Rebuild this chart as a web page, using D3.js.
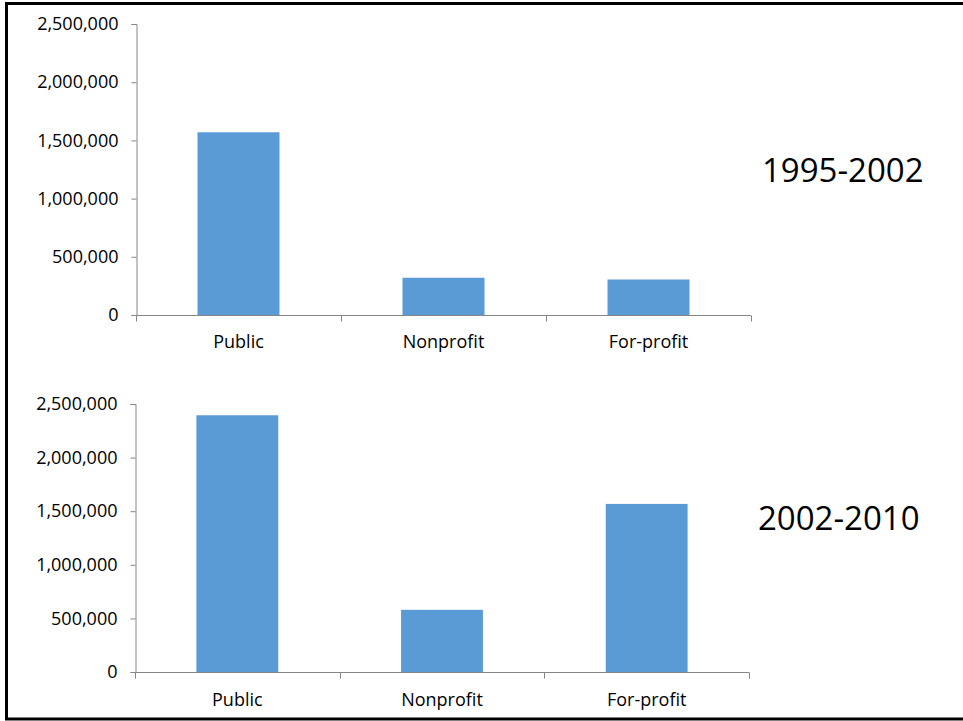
<!DOCTYPE html>
<html>
<head>
<meta charset="utf-8">
<script src="https://cdn.jsdelivr.net/npm/d3@7"></script>
<style>
  body { margin: 0; background: #fff; }
  svg { display: block; font-family: "Open Sans", "Noto Sans", sans-serif; }
  .axis path, .axis line { stroke: #868686; }
  .axis text { fill: #000; font-size: 18px; }
</style>
</head>
<body>
<div id="chart"></div>
<script>
// categories shared by both panels
const categories = ["Public", "Nonprofit", "For-profit"];
const yTicks = [0, 500000, 1000000, 1500000, 2000000, 2500000];

// 1995-2002 panel
const values1995 = [1570000, 320000, 305000];
// 2002-2010 panel
const values2002 = [2395000, 580000, 1568000];

const periodLabels = ["1995-2002", "2002-2010"];

const width = 963, height = 721;

const svg = d3.select("#chart")
    .append("svg")
    .attr("width", width)
    .attr("height", height);

// outer frame (right edge is cut off in the picture)
svg.append("path")
    .attr("d", "M975,3.5 H6.5 V719 H975")
    .attr("fill", "none")
    .attr("stroke", "#000")
    .attr("stroke-width", 3);

const panels = [
    { values: values1995, label: periodLabels[0], left: 136, right: 751, top: 24, bottom: 315, labelX: 762, labelY: 182, pad: 20 },
    { values: values2002, label: periodLabels[1], left: 135, right: 749, top: 404, bottom: 672, labelX: 758, labelY: 530, pad: 21 }
];

const fmt = d3.format(",");

panels.forEach(p => {
    const g = svg.append("g");

    const x = d3.scaleBand()
        .domain(categories)
        .range([p.left, p.right])
        .paddingInner(0.6)
        .paddingOuter(0.3);

    const y = d3.scaleLinear()
        .domain([0, 2500000])
        .range([p.bottom, p.top]);

    // y axis
    g.append("g").attr("class", "axis")
        .attr("transform", "translate(" + (p.left + 0.5) + ",0)")
        .call(d3.axisLeft(y).tickValues(yTicks).tickFormat(fmt).tickSizeOuter(0).tickSize(5).tickPadding(13))
        .attr("font-family", null)
        .attr("font-size", null);

    // bars
    g.selectAll(".bar")
        .data(p.values)
        .enter()
        .append("rect")
        .attr("x", (d, i) => x(categories[i]))
        .attr("width", x.bandwidth())
        .attr("y", d => y(d))
        .attr("height", d => y(0) - y(d))
        .attr("fill", "#5B9BD5");

    // x axis: ticks between categories
    const step = (p.right - p.left) / categories.length;
    const xAxis = g.append("g").attr("class", "axis")
        .attr("transform", "translate(0," + (p.bottom + 0.5) + ")")
        .call(d3.axisBottom(x).tickSize(0).tickPadding(p.pad).tickSizeOuter(0))
        .attr("font-family", null)
        .attr("font-size", null);
    xAxis.select(".domain").attr("d", "M" + p.left + ",0H" + p.right);
    xAxis.selectAll(".sep")
        .data(d3.range(categories.length + 1))
        .enter()
        .append("line")
        .attr("x1", i => Math.round(p.left + i * step) + 0.5)
        .attr("x2", i => Math.round(p.left + i * step) + 0.5)
        .attr("y1", 0)
        .attr("y2", 6);

    g.append("text")
        .attr("x", p.labelX)
        .attr("y", p.labelY)
        .attr("font-size", 33)
        .attr("fill", "#000")
        .text(p.label);
});
</script>
</body>
</html>
